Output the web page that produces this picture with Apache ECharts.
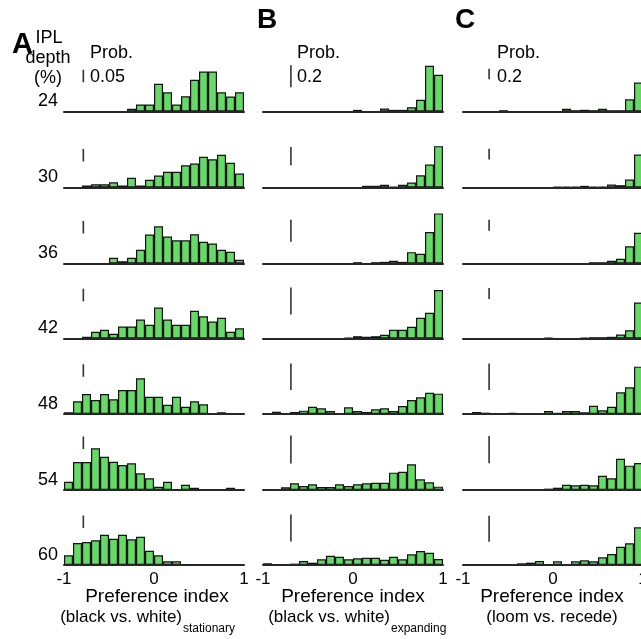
<!DOCTYPE html>
<html><head><meta charset="utf-8">
<script src="https://cdn.jsdelivr.net/npm/echarts@6/dist/echarts.min.js"></script>
<style>html,body{margin:0;padding:0;background:#fff}#c{width:641px;height:639px}</style>
</head><body><div id="c"></div>
<script>
// ---- data ----
const binCenters = ['-0.95','-0.85','-0.75','-0.65','-0.55','-0.45','-0.35','-0.25','-0.15','-0.05',
                    '0.05','0.15','0.25','0.35','0.45','0.55','0.65','0.75','0.85','0.95'];
const depths = [24, 30, 36, 42, 48, 54, 60];
const tickLabels = [-1, 0, 1];

// Panel A: black vs. white (stationary)
const A24 = [0,0,0,0,0,0,0,0.011,0.028,0.028,0.111,0.077,0.028,0.061,0.127,0.16,0.16,0.077,0.06,0.077];
const A30 = [0,0,0.008,0.013,0.013,0.021,0.008,0.039,0.008,0.031,0.048,0.063,0.063,0.089,0.096,0.123,0.113,0.131,0.099,0.056];
const A36 = [0,0,0,0,0,0.023,0.009,0.023,0.055,0.116,0.149,0.108,0.093,0.093,0.117,0.087,0.08,0.055,0.047,0.015];
const A42 = [0,0,0.007,0.027,0.035,0.019,0.048,0.048,0.076,0.055,0.124,0.076,0.055,0.055,0.111,0.089,0.068,0.083,0.027,0.041];
const A48 = [0.007,0.051,0.08,0.056,0.08,0.059,0.096,0.096,0.143,0.069,0.069,0.037,0.069,0.029,0.051,0.039,0,0.007,0,0];
const A54 = [0.033,0.112,0.112,0.167,0.133,0.113,0.1,0.107,0.067,0.047,0.013,0.033,0,0.021,0.009,0,0,0,0.009,0];
const A60 = [0.039,0.088,0.092,0.099,0.121,0.105,0.121,0.103,0.113,0.057,0.039,0.015,0.015,0.004,0.004,0.004,0,0,0,0];

// Panel B: black vs. white (expanding)
const B24 = [0,0,0,0,0,0,0,0,0,0,0.015,0,0,0.027,0.015,0.015,0.039,0.106,0.415,0.334];
const B30 = [0,0,0,0,0,0,0,0,0,0,0,0.019,0.019,0.03,0.008,0.03,0.055,0.135,0.253,0.454];
const B36 = [0,0,0,0,0,0,0,0,0,0,0.012,0,0.012,0.015,0.025,0.015,0.103,0.088,0.285,0.455];
const B42 = [0,0,0,0,0,0,0,0,0,0.007,0.017,0.013,0.017,0.027,0.064,0.064,0.087,0.153,0.19,0.358];
const B48 = [0,0.017,0,0.015,0.025,0.055,0.043,0.023,0,0.05,0.023,0.015,0.035,0.043,0.023,0.06,0.105,0.126,0.16,0.153];
const B54 = [0,0,0.019,0.048,0.029,0.041,0.021,0.021,0.041,0.029,0.041,0.048,0.052,0.052,0.124,0.131,0.184,0.076,0.055,0.024];
const B60 = [0.013,0.007,0.007,0.01,0.03,0.017,0.042,0.069,0.061,0.042,0.05,0.054,0.054,0.039,0.061,0.042,0.079,0.104,0.091,0.044];

// Panel C: loom vs. recede
const C24 = [0,0,0,0,0.025,0,0,0,0,0,0,0.052,0.025,0.033,0.025,0.052,0.025,0.025,0.237,0.557];
const C30 = [0,0,0,0,0,0,0,0,0,0,0.013,0.019,0.019,0.031,0.019,0.013,0.056,0.043,0.148,0.611];
const C36 = [0,0,0,0,0,0,0,0,0,0,0,0,0,0,0.023,0.023,0.048,0.084,0.309,0.548];
const C42 = [0,0,0,0,0,0,0,0,0,0.013,0,0,0,0.018,0.024,0.024,0.031,0.073,0.151,0.655];
const C48 = [0,0.015,0.01,0,0,0.008,0,0,0,0.023,0.008,0.023,0.023,0.013,0.062,0.028,0.055,0.163,0.201,0.356];
const C54 = [0,0,0,0,0,0.007,0.007,0.007,0,0.01,0.017,0.039,0.035,0.039,0.035,0.105,0.086,0.23,0.179,0.199];
const C60 = [0,0,0,0,0.005,0.008,0.013,0.018,0.031,0.008,0.028,0.008,0.028,0.036,0.028,0.059,0.085,0.141,0.167,0.29];

// per-histogram y-axis maxima (each histogram has its own scale)
const yMaxA = [0.24,0.24,0.24,0.24,0.24,0.24,0.24];
const yMaxB = [0.545,0.659,0.545,0.444,0.451,0.429,0.444];
const yMaxC = [1.154,1.111,1.071,1.091,0.451,0.441,0.462];

// scale bars ("Prob." bars): bottom value and length
const scaleBaseA = [0.117,0.104,0.12,0.149,0.149,0.164,0.148];
const scaleBaseB = [0.221,0.245,0.197,0.178,0.18,0.19,0.173];
const scaleBaseC = [0.62,0.519,0.583,0.72,0.18,0.196,0.179];
const scaleLen = [0.05, 0.2, 0.2];
const scaleLabels = ['0.05', '0.2', '0.2'];
const scaleX = [-0.785, -0.69, -0.71];

// ---- layout ----
const FONT = "'Liberation Sans', Arial, Helvetica, sans-serif";
const panelLeft = [64, 263, 463];
const panelW = 180;
const rowBase = [111.5, 187.5, 263.5, 338.5, 414, 490, 565];
const gridH = 60;

const panels = [
  {data:[A24,A30,A36,A42,A48,A54,A60], yMax:yMaxA, base:scaleBaseA},
  {data:[B24,B30,B36,B42,B48,B54,B60], yMax:yMaxB, base:scaleBaseB},
  {data:[C24,C30,C36,C42,C48,C54,C60], yMax:yMaxC, base:scaleBaseC}
];

const grid = [], xAxis = [], yAxis = [], series = [];
let gi = 0;
panels.forEach((p, pi) => {
  p.data.forEach((d, ri) => {
    grid.push({left: panelLeft[pi], width: panelW, top: rowBase[ri] - gridH, height: gridH,
               containLabel:false, outerBoundsMode:'none'});
    const catIdx = xAxis.length;
    xAxis.push({type:'category', gridIndex:gi, data:binCenters, boundaryGap:true, position:'bottom',
      axisLine:{show:true, onZero:false, lineStyle:{color:'#262626', width:2}},
      axisTick:{show:false}, axisLabel:{show:false}, splitLine:{show:false}, z:5});
    const valIdx = xAxis.length;
    const isBottom = ri === p.data.length - 1;
    xAxis.push({type:'value', gridIndex:gi, min:tickLabels[0], max:tickLabels[2], interval:1, position:'bottom',
      axisLine:{show:false}, axisTick:{show:false}, splitLine:{show:false},
      axisLabel:{show:isBottom, fontSize:17, color:'#000', margin:6, fontFamily:FONT,
        showMinLabel:true, showMaxLabel:true}});
    yAxis.push({type:'value', gridIndex:gi, min:0, max:p.yMax[ri], show:false});
    series.push({type:'bar', xAxisIndex:catIdx, yAxisIndex:gi, data:d, barCategoryGap:'0%',
      itemStyle:{color:'#66d966', borderColor:'#141414', borderWidth:1.2}, silent:true, animation:false});
    series.push({type:'line', xAxisIndex:valIdx, yAxisIndex:gi,
      data:[[scaleX[pi], p.base[ri]], [scaleX[pi], p.base[ri] + scaleLen[pi]]],
      symbol:'none', lineStyle:{color:'#333', width:1.6}, silent:true, animation:false});
    gi++;
  });
});

function txt(text, x, y, size, align, weight) {
  return {type:'text', x:x, y:y, silent:true,
    style:{text:text, fontSize:size, fontWeight:weight||'normal', fontFamily:FONT, fill:'#000',
           textAlign:align||'left', textVerticalAlign:'middle'}};
}
const graphic = [];
// panel letters
graphic.push(txt('A', 12, 45, 29, 'left', 'bold'));
graphic.push(txt('B', 257, 20, 28, 'left', 'bold'));
graphic.push(txt('C', 455, 20, 28, 'left', 'bold'));
// depth header
graphic.push(txt('IPL', 49, 38, 18, 'center'));
graphic.push(txt('depth', 48, 58, 18, 'center'));
graphic.push(txt('(%)', 48, 78, 18, 'center'));
depths.forEach((dv, ri) => graphic.push(txt(String(dv), 58, rowBase[ri] - 10, 18, 'right')));
// Prob. scale labels
const probLeft = [90, 297, 497];
probLeft.forEach((xl, pi) => {
  graphic.push(txt('Prob.', xl, 53, 18, 'left'));
  graphic.push(txt(scaleLabels[pi], xl, 77, 18, 'left'));
});
// x-axis titles
graphic.push(txt('Preference index', 157, 597, 19, 'center'));
graphic.push(txt('(black vs. white)', 182, 617, 17, 'right'));
graphic.push(txt('stationary', 183, 629, 12, 'left'));
graphic.push(txt('Preference index', 353, 597, 19, 'center'));
graphic.push(txt('(black vs. white)', 390, 617, 17, 'right'));
graphic.push(txt('expanding', 391, 629, 12, 'left'));
graphic.push(txt('Preference index', 552, 597, 19, 'center'));
graphic.push(txt('(loom vs. recede)', 552, 617, 17, 'center'));

const chart = echarts.init(document.getElementById('c'), null, {renderer:'canvas'});
chart.setOption({animation:false, backgroundColor:'#fff', grid, xAxis, yAxis, series, graphic});
</script>
</body></html>
